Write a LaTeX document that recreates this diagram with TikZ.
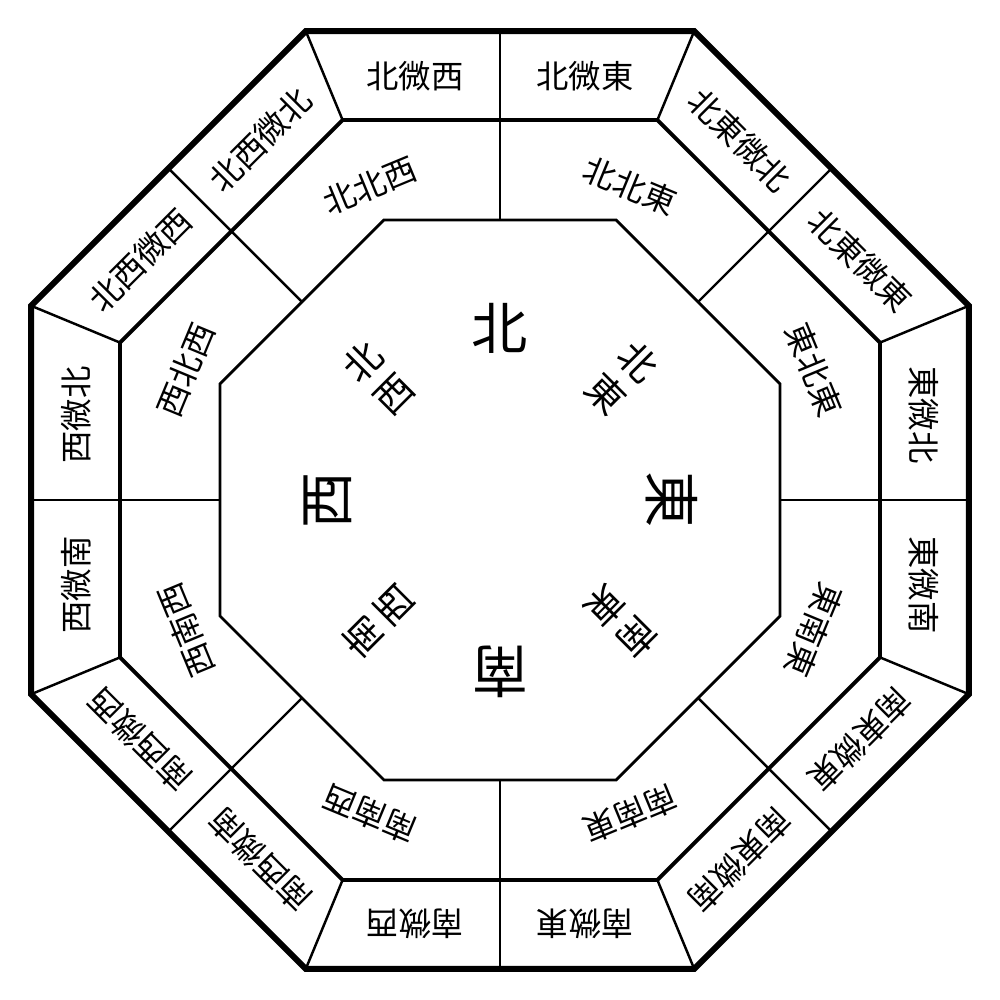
\documentclass[tikz,border=0pt]{standalone}
\usepackage{fontspec}
\setmainfont{Noto Sans CJK JP}
\usepackage{tikz}

\begin{document}
\begin{tikzpicture}
\tikzstyle{o}=[inner sep=0pt,font=\fontsize{9.2}{11}\selectfont]
\tikzstyle{m}=[inner sep=0pt,font=\fontsize{9.2}{11}\selectfont]
\tikzstyle{c}=[inner sep=0pt,font=\fontsize{16}{18}\selectfont]
\tikzstyle{d}=[inner sep=0pt,align=center,font=\fontsize{10.8}{12.8}\selectfont]
\useasboundingbox[fill=white] (-5,-5) rectangle (5,5);
% radial dividers
\foreach \a in {0,45,...,315} \draw[line width=0.7pt] (\a:2.80) -- (\a:4.69);
\foreach \a in {22.5,67.5,...,337.5} \draw[line width=0.7pt] (\a:4.113) -- (\a:5.076);
% three octagons
\draw[line width=0.8pt] (22.5:3.031) \foreach \a in {67.5,112.5,...,337.5} {-- (\a:3.031)} -- cycle;
\draw[line width=1.1pt] (22.5:4.113) \foreach \a in {67.5,112.5,...,337.5} {-- (\a:4.113)} -- cycle;
\draw[line width=1.7pt] (22.5:5.076) \foreach \a in {67.5,112.5,...,337.5} {-- (\a:5.076)} -- cycle;
% outer ring
\foreach \r/\la/\lb [count=\k] in {0/北微西/北微東, -45/北東微北/北東微東, -90/東微北/東微南, -135/南東微東/南東微南, 180/南微東/南微西, 135/南西微南/南西微西, 90/西微南/西微北, 45/北西微西/北西微北}
{
  \begin{scope}[rotate=\r]
    \node[o,rotate=\r] (o\k-a) at (-0.85,4.24) {\la};
    \node[o,rotate=\r] (o\k-b) at (0.85,4.24) {\lb};
  \end{scope}
}
% middle ring
\foreach \r/\l [count=\k] in {22.5/北北西, -22.5/北北東, -67.5/東北東, -112.5/東南東, -157.5/南南東, 157.5/南南西, 112.5/西南西, 67.5/西北西}
  \node[m,rotate=\r] (m\k) at (\r+90:3.40) {\l};
% centre
\foreach \r/\l [count=\k] in {0/北, -90/東, 180/南, 90/西}
  \node[c,rotate=\r] (c\k) at (\r+90:1.72) {\l};
\foreach \r/\l [count=\k] in {-45/北\\東, -135/南\\東, 135/南\\西, 45/北\\西}
  \node[d,rotate=\r] (d\k) at (\r+90:1.72) {\l};
\end{tikzpicture}
\end{document}
